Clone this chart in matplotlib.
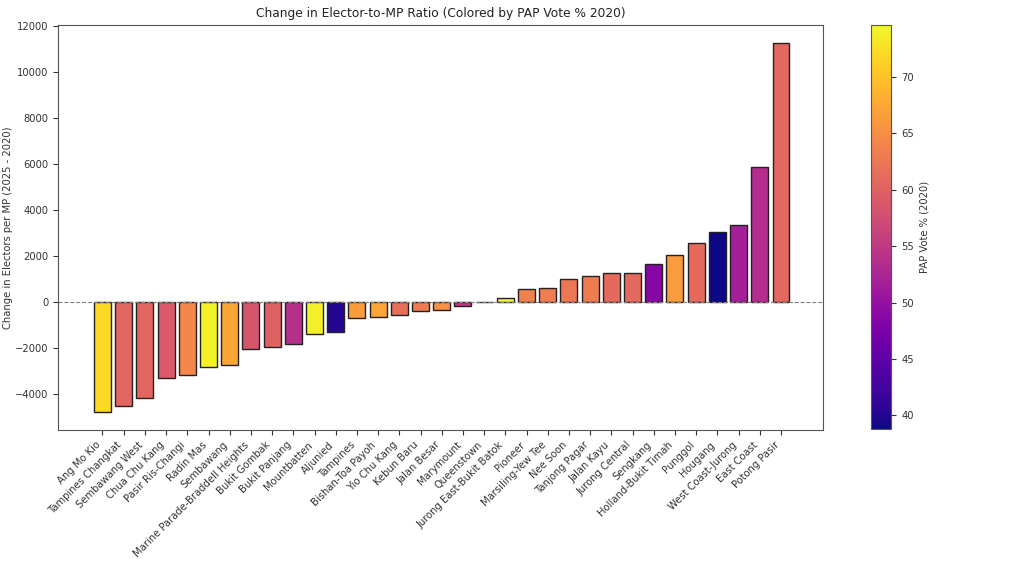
import matplotlib
matplotlib.use("Agg")
import matplotlib.pyplot as plt
import numpy as np
from matplotlib import cm, colors

constituencies = ["Ang Mo Kio", "Tampines Changkat", "Sembawang West", "Chua Chu Kang",
                  "Pasir Ris-Changi", "Radin Mas", "Sembawang", "Marine Parade-Braddell Heights",
                  "Bukit Gombak", "Bukit Panjang", "Mountbatten", "Aljunied", "Tampines",
                  "Bishan-Toa Payoh", "Yio Chu Kang", "Kebun Baru", "Jalan Besar", "Marymount",
                  "Queenstown", "Jurong East-Bukit Batok", "Pioneer", "Marsiling-Yew Tee",
                  "Nee Soon", "Tanjong Pagar", "Jalan Kayu", "Jurong Central", "Sengkang",
                  "Holland-Bukit Timah", "Punggol", "Hougang", "West Coast-Jurong",
                  "East Coast", "Potong Pasir"]
change_per_mp = [-4786, -4555, -4190, -3316, -3172, -2836, -2766, -2051, -1981, -1863,
                 -1427, -1309, -715, -654, -567, -393, -366, -185, -20, 160, 540, 610,
                 990, 1120, 1235, 1265, 1645, 2037, 2561, 3011, 3346, 5877, 11243]
pap_vote_2020 = [71.91, 60.5, 60.5, 59.0, 64.16, 74.01, 67.29, 58.5, 60.0, 53.74,
                 73.82, 40.07, 66.41, 67.26, 61.5, 62.98, 65.36, 55.04, 63.13, 74.62,
                 63.5, 63.18, 62.5, 63.13, 61.0, 60.8, 48.5, 66.36, 60.98, 38.79,
                 51.69, 53.41, 60.69]

fig = plt.figure(figsize=(10.24, 5.66), dpi=100)
ax = fig.add_axes([0.0566, 0.2403, 0.7475, 0.7155])
cax = fig.add_axes([0.8506, 0.2420, 0.0199, 0.7138])

norm = colors.Normalize(vmin=min(pap_vote_2020), vmax=max(pap_vote_2020))
cmap = plt.get_cmap("plasma")
x = np.arange(len(constituencies))
ax.bar(x, change_per_mp, width=0.8, color=cmap(norm(pap_vote_2020)),
       edgecolor="#262020", linewidth=1.0)
ax.axhline(0, color="gray", linestyle="--", linewidth=0.8)
ax.set_xlim(-2.1, 34.0)
ax.set_xticks(x)
ax.set_xticklabels(constituencies, rotation=45, ha="right", fontsize=7.2,
                   color="#333333")
ax.tick_params(axis="both", labelsize=7.2, colors="#333333")
ax.set_ylabel("Change in Electors per MP (2025 - 2020)", fontsize=7.2,
              color="#333333", labelpad=1)
ax.set_title("Change in Elector-to-MP Ratio (Colored by PAP Vote % 2020)",
             fontsize=8.8, color="#222222")
for s in ax.spines.values():
    s.set_color("#555555")

sm = cm.ScalarMappable(norm=norm, cmap=cmap)
cb = fig.colorbar(sm, cax=cax)
cb.set_label("PAP Vote % (2020)", fontsize=7.2, color="#333333")
cb.ax.tick_params(labelsize=7.2, colors="#333333")
cb.outline.set_edgecolor("#555555")

fig.savefig("out.png", dpi=100)
